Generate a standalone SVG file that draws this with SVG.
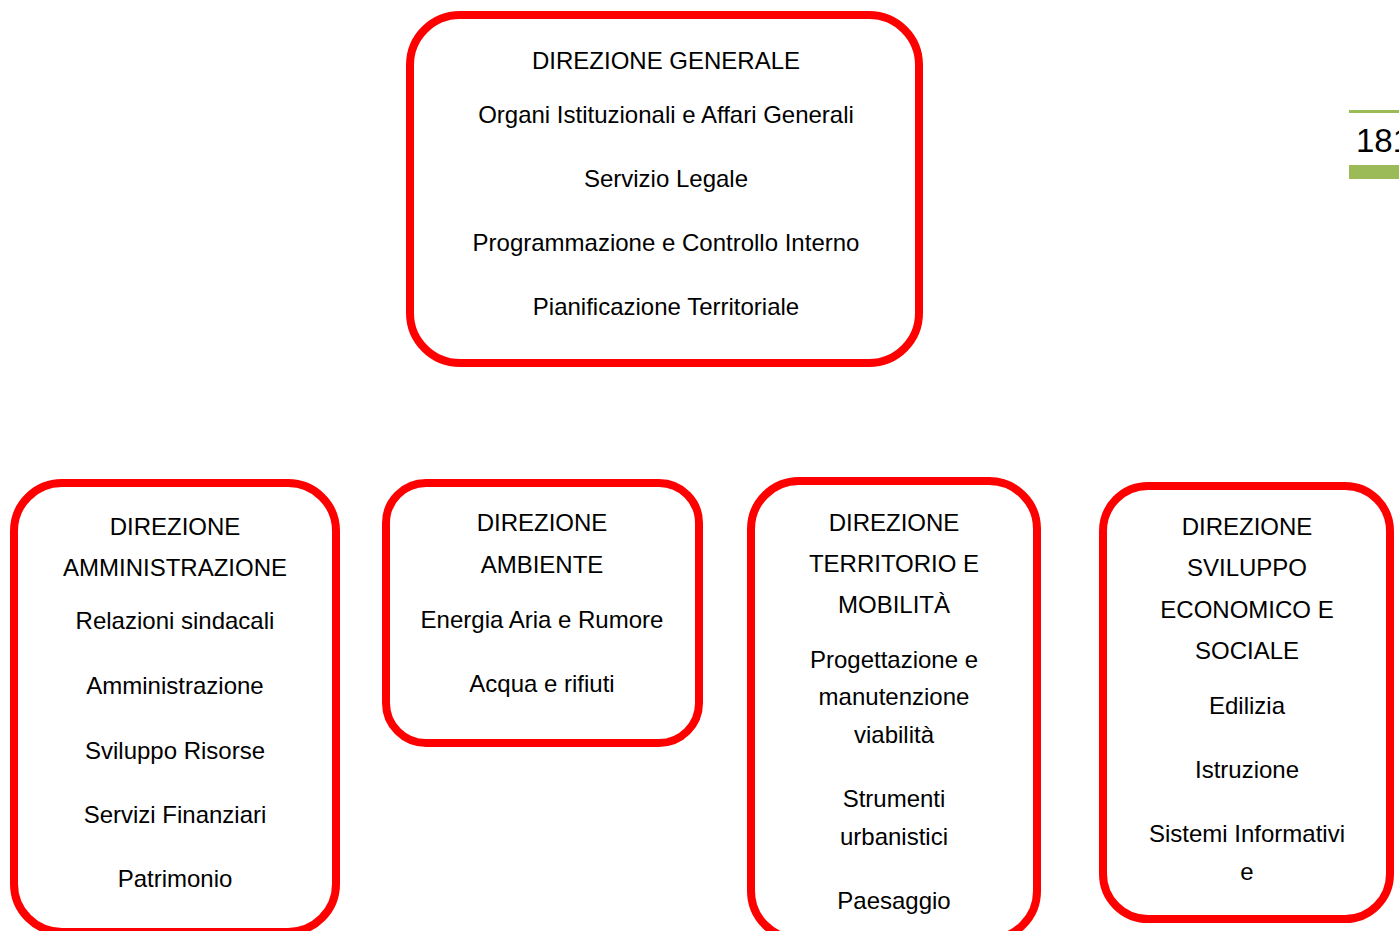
<svg xmlns="http://www.w3.org/2000/svg" width="1399" height="931" viewBox="0 0 1399 931">
<style>
.box{fill:#fff;stroke:#ff0000;stroke-width:8}
.t{font-family:"Liberation Sans",Arial,sans-serif;font-size:24px;fill:#000;text-anchor:middle}
.pg{font-family:"Liberation Sans",Arial,sans-serif;font-size:33px;fill:#000}
</style>
<rect x="0" y="0" width="1399" height="931" fill="#fff"/>
<g id="page-number">
<rect x="1349" y="110" width="50" height="3" fill="#9bbb59"/>
<text class="pg" x="1356" y="152">181</text>
<rect x="1349" y="165" width="50" height="14" fill="#9bbb59"/>
</g>
<g id="connectors"></g>
<g id="direzione-generale">
<rect class="box" x="410" y="15" width="509" height="348" rx="50"/>
<text class="t" x="666" y="69">DIREZIONE GENERALE</text>
<text class="t" x="666" y="123">Organi Istituzionali e Affari Generali</text>
<text class="t" x="666" y="187">Servizio Legale</text>
<text class="t" x="666" y="251">Programmazione e Controllo Interno</text>
<text class="t" x="666" y="315">Pianificazione Territoriale</text>
</g>
<g id="direzione-amministrazione">
<rect class="box" x="14" y="483" width="322" height="449" rx="48"/>
<text class="t" x="175" y="535">DIREZIONE</text>
<text class="t" x="175" y="576">AMMINISTRAZIONE</text>
<text class="t" x="175" y="629">Relazioni sindacali</text>
<text class="t" x="175" y="694">Amministrazione</text>
<text class="t" x="175" y="759">Sviluppo Risorse</text>
<text class="t" x="175" y="823">Servizi Finanziari</text>
<text class="t" x="175" y="887">Patrimonio</text>
</g>
<g id="direzione-ambiente">
<rect class="box" x="386" y="483" width="313" height="260" rx="40"/>
<text class="t" x="542" y="531">DIREZIONE</text>
<text class="t" x="542" y="573">AMBIENTE</text>
<text class="t" x="542" y="628">Energia Aria e Rumore</text>
<text class="t" x="542" y="692">Acqua e rifiuti</text>
</g>
<g id="direzione-territorio">
<rect class="box" x="751" y="481" width="286" height="458" rx="48"/>
<text class="t" x="894" y="531">DIREZIONE</text>
<text class="t" x="894" y="572">TERRITORIO E</text>
<text class="t" x="894" y="613">MOBILITÀ</text>
<text class="t" x="894" y="668">Progettazione e</text>
<text class="t" x="894" y="705">manutenzione</text>
<text class="t" x="894" y="743">viabilità</text>
<text class="t" x="894" y="807">Strumenti</text>
<text class="t" x="894" y="845">urbanistici</text>
<text class="t" x="894" y="909">Paesaggio</text>
</g>
<g id="direzione-sviluppo">
<rect class="box" x="1103" y="486" width="287" height="433" rx="45"/>
<text class="t" x="1247" y="535">DIREZIONE</text>
<text class="t" x="1247" y="576">SVILUPPO</text>
<text class="t" x="1247" y="618">ECONOMICO E</text>
<text class="t" x="1247" y="659">SOCIALE</text>
<text class="t" x="1247" y="714">Edilizia</text>
<text class="t" x="1247" y="778">Istruzione</text>
<text class="t" x="1247" y="842">Sistemi Informativi</text>
<text class="t" x="1247" y="880">e</text>
</g>
</svg>
